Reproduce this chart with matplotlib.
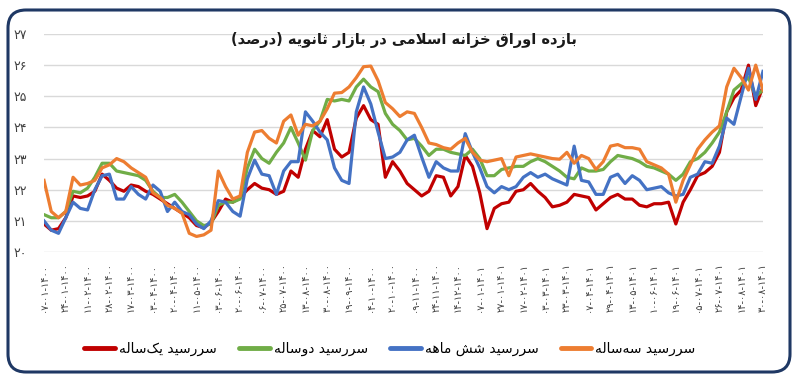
import numpy as np
import matplotlib
matplotlib.use("Agg")
import matplotlib.pyplot as plt
from matplotlib.patches import FancyBboxPatch
from matplotlib import font_manager, ft2font

# -----------------------------------------
# Données
# -----------------------------------------
title = "بازده اوراق خزانه اسلامی در بازار ثانویه (درصد)"

series_names = ["سررسید یک‌ساله", "سررسید دوساله", "سررسید شش ماهه", "سررسید سه‌ساله"]

dates = [
    "۱۴۰۰-۰۱-۰۷", "۱۴۰۰-۰۱-۲۴", "۱۴۰۰-۰۲-۱۱", "۱۴۰۰-۰۲-۲۸", "۱۴۰۰-۰۳-۱۷",
    "۱۴۰۰-۰۴-۰۳", "۱۴۰۰-۰۴-۲۰", "۱۴۰۰-۰۵-۱۱", "۱۴۰۰-۰۶-۰۳", "۱۴۰۰-۰۶-۲۰",
    "۱۴۰۰-۰۷-۰۶", "۱۴۰۰-۰۷-۲۵", "۱۴۰۰-۰۸-۱۳", "۱۴۰۰-۰۸-۳۰", "۱۴۰۰-۰۹-۱۹",
    "۱۴۰۰-۱۰-۰۴", "۱۴۰۰-۱۰-۲۰", "۱۴۰۰-۱۱-۰۹", "۱۴۰۰-۱۱-۲۴", "۱۴۰۰-۱۲-۱۴",
    "۱۴۰۱-۰۱-۰۷", "۱۴۰۱-۰۱-۲۷", "۱۴۰۱-۰۲-۱۷", "۱۴۰۱-۰۳-۰۳", "۱۴۰۱-۰۳-۲۳",
    "۱۴۰۱-۰۴-۰۷", "۱۴۰۱-۰۴-۲۹", "۱۴۰۱-۰۵-۱۳", "۱۴۰۱-۰۶-۱۰", "۱۴۰۱-۰۶-۱۹",
    "۱۴۰۱-۰۷-۰۵", "۱۴۰۱-۰۷-۲۶", "۱۴۰۱-۰۸-۱۴", "۱۴۰۱-۰۸-۳۰",
]

yek_sale = [
    20.9, 20.7, 20.75, 21.1, 21.8, 21.75, 21.8, 21.95, 22.5, 22.3,
    22.05, 21.95, 22.15, 22.1, 21.95, 21.85, 21.7, 21.55, 21.4, 21.25,
    21.1, 20.85, 20.78, 20.95, 21.3, 21.7, 21.6, 21.75, 22.0, 22.2,
    22.05, 22.0, 21.85, 21.95, 22.6, 22.4, 23.3, 23.9, 23.7, 24.25,
    23.3, 23.05, 23.2, 24.3, 24.7, 24.25, 24.1, 22.4, 22.9, 22.6,
    22.2, 22.0, 21.8, 21.95, 22.45, 22.4, 21.8, 22.1, 23.1, 22.75,
    21.9, 20.75, 21.4, 21.55, 21.6, 21.95, 22.0, 22.2, 21.95, 21.75,
    21.45, 21.5, 21.6, 21.85, 21.8, 21.75, 21.35, 21.55, 21.75, 21.85,
    21.7, 21.7, 21.5, 21.45, 21.55, 21.55, 21.6, 20.9, 21.6, 22.0,
    22.45, 22.55, 22.75, 23.2, 24.5, 24.95, 25.2, 26.0, 24.7, 25.3,
]

do_sale = [
    21.2, 21.1, 21.1, 21.3, 21.95, 21.9, 22.05, 22.4, 22.85, 22.85,
    22.6, 22.55, 22.5, 22.45, 22.3, 21.95, 21.75, 21.75, 21.85, 21.6,
    21.3, 21.0, 20.85, 20.9, 21.5, 21.6, 21.6, 21.7, 22.7, 23.3,
    23.0, 22.85, 23.2, 23.5, 24.0, 23.5, 22.95, 23.9, 24.2, 24.9,
    24.85, 24.9, 24.85, 25.3, 25.55, 25.3, 25.15, 24.45, 24.1, 23.9,
    23.6, 23.65, 23.4, 23.1, 23.3, 23.3, 23.2, 23.15, 23.1, 23.3,
    23.0, 22.45, 22.45, 22.65, 22.7, 22.75, 22.75, 22.9, 23.0, 22.9,
    22.75, 22.6, 22.4, 22.35, 22.7, 22.6, 22.6, 22.65, 22.9, 23.1,
    23.05, 23.0, 22.9, 22.75, 22.7, 22.6, 22.5, 22.3, 22.5, 22.9,
    23.0, 23.2, 23.5, 23.85, 24.5, 25.2, 25.4, 25.6, 25.0, 25.2,
]

shesh_mahe = [
    21.0, 20.7, 20.6, 21.1, 21.6, 21.4, 21.35, 22.0, 22.45, 22.5,
    21.7, 21.7, 22.1, 21.85, 21.7, 22.15, 21.95, 21.3, 21.6, 21.3,
    21.2, 20.9, 20.75, 21.0, 21.65, 21.6, 21.3, 21.15, 22.35, 22.95,
    22.5, 22.45, 21.85, 22.6, 22.9, 22.9, 24.5, 24.2, 23.85, 23.6,
    22.7, 22.3, 22.2, 24.5, 25.3, 24.75, 23.85, 23.0, 23.05, 23.2,
    23.6, 23.75, 23.05, 22.4, 22.9, 22.7, 22.6, 22.6, 23.8, 23.2,
    22.7, 22.1, 21.9, 22.1, 22.0, 22.1, 22.4, 22.55, 22.4, 22.5,
    22.35, 22.25, 22.15, 23.4, 22.3, 22.25, 21.85, 21.85, 22.4, 22.5,
    22.2, 22.45, 22.3, 22.0, 22.05, 22.1, 21.9, 21.8, 21.85, 22.4,
    22.5, 22.9, 22.85, 23.4, 24.3, 24.1, 25.0, 25.9, 24.9, 25.8,
]

se_sale = [
    22.3, 21.3, 21.1, 21.3, 22.4, 22.15, 22.2, 22.3, 22.7, 22.8,
    23.0, 22.9, 22.7, 22.55, 22.4, 21.9, 21.75, 21.5, 21.4, 21.25,
    20.6, 20.5, 20.55, 20.7, 22.6, 22.1, 21.7, 21.8, 23.2, 23.85,
    23.9, 23.65, 23.5, 24.2, 24.4, 23.75, 24.1, 24.05, 24.2, 24.6,
    25.1, 25.12, 25.3, 25.6, 25.95, 25.97, 25.5, 24.8, 24.6, 24.35,
    24.5, 24.45, 24.0, 23.5, 23.45, 23.35, 23.3, 23.5, 23.65, 23.2,
    22.95, 22.9, 22.95, 23.0, 22.45, 23.05, 23.1, 23.15, 23.1, 23.05,
    23.0, 22.98, 23.2, 22.85, 23.1, 23.0, 22.65, 22.9, 23.4, 23.45,
    23.35, 23.35, 23.3, 22.9, 22.8, 22.7, 22.5, 21.6, 22.3, 22.8,
    23.3, 23.6, 23.85, 24.05, 25.3, 25.9, 25.6, 25.2, 26.0, 25.2,
]

colors = ["#C00000", "#70AD47", "#4472C4", "#ED7D31"]

# -----------------------------------------
# Mise en forme du texte persan (matplotlib ne fait ni liaison ni RTL)
# -----------------------------------------
ft = ft2font.FT2Font(font_manager.findfont("DejaVu Sans"))

def has_glyph(ch):
    return ft.get_char_index(ord(ch)) != 0

FORMS = {
    "ا": ("\uFE8D", "\uFE8E", None, None),
    "ب": ("\uFE8F", "\uFE90", "\uFE91", "\uFE92"),
    "ث": ("\uFE99", "\uFE9A", "\uFE9B", "\uFE9C"),
    "خ": ("\uFEA5", "\uFEA6", "\uFEA7", "\uFEA8"),
    "د": ("\uFEA9", "\uFEAA", None, None),
    "ر": ("\uFEAD", "\uFEAE", None, None),
    "ز": ("\uFEAF", "\uFEB0", None, None),
    "س": ("\uFEB1", "\uFEB2", "\uFEB3", "\uFEB4"),
    "ش": ("\uFEB5", "\uFEB6", "\uFEB7", "\uFEB8"),
    "ص": ("\uFEB9", "\uFEBA", "\uFEBB", "\uFEBC"),
    "ق": ("\uFED5", "\uFED6", "\uFED7", "\uFED8"),
    "ک": ("\uFB8E", "\uFB8F", "\uFB90", "\uFB91"),
    "ل": ("\uFEDD", "\uFEDE", "\uFEDF", "\uFEE0"),
    "م": ("\uFEE1", "\uFEE2", "\uFEE3", "\uFEE4"),
    "ن": ("\uFEE5", "\uFEE6", "\uFEE7", "\uFEE8"),
    "ه": ("\uFEE9", "\uFEEA", "\uFEEB", "\uFEEC"),
    "و": ("\uFEED", "\uFEEE", None, None),
    "ی": ("\uFBFC", "\uFBFD", "\uFBFE", "\uFBFF"),
}
if not has_glyph("\uFBFC"):
    FORMS["ی"] = ("\uFEEF", "\uFEF0", "\uFEF3", "\uFEF4")
if not has_glyph("\uFB8E"):
    FORMS["ک"] = ("\uFED9", "\uFEDA", "\uFEDB", "\uFEDC")


def joins_left(c):
    return c in FORMS and FORMS[c][2] is not None


def shape(text):
    out = []
    i = 0
    n = len(text)
    while i < n:
        c = text[i]
        if c == "\u200c":
            i += 1
            continue
        if c not in FORMS:
            out.append(c)
            i += 1
            continue
        cp = i > 0 and joins_left(text[i - 1])
        if c == "ل" and i + 1 < n and text[i + 1] == "ا":
            out.append("\uFEFC" if cp else "\uFEFB")
            i += 2
            continue
        cn = joins_left(c) and i + 1 < n and text[i + 1] in FORMS
        iso, fin, ini, med = FORMS[c]
        if cp and cn:
            out.append(med)
        elif cp:
            out.append(fin)
        elif cn:
            out.append(ini)
        else:
            out.append(iso)
        i += 1
    s = "".join(reversed(out))
    return s.translate(str.maketrans("()", ")("))


def fa_digits(s):
    return str(s).translate(str.maketrans("0123456789", "۰۱۲۳۴۵۶۷۸۹"))


# -----------------------------------------
# Figure
# -----------------------------------------
plt.rcParams["font.family"] = ["DejaVu Sans"]
fig = plt.figure(figsize=(8, 3.79), dpi=100)
ax = fig.add_axes([44 / 800, 1 - 252 / 379, 719 / 800, 218 / 379])

x = np.arange(len(yek_sale))
for values, color in zip([yek_sale, do_sale, shesh_mahe, se_sale], colors):
    ax.plot(x, values, color=color, linewidth=2.3, solid_joinstyle="round")

ax.set_xlim(0, len(x) - 1)
ax.set_ylim(20, 27)
ax.set_yticks(range(20, 28))
ax.set_yticklabels([fa_digits(v) for v in range(20, 28)], fontsize=9, color="#404040")
ax.set_xticks(range(0, len(x), 3))
ax.set_xticklabels(["-".join(reversed(d.split("-"))) for d in dates],
                   rotation=90, fontsize=7, color="#404040")
ax.tick_params(length=0)
ax.tick_params(axis="y", pad=12)
ax.tick_params(axis="x", pad=8)
ax.grid(axis="y", color="#D9D9D9", linewidth=1)
ax.set_axisbelow(True)
for sp in ax.spines.values():
    sp.set_visible(False)

fig.text(0.505, 0.895, shape(title), ha="center", va="center",
         fontsize=10.5, fontweight="bold", color="#1a1a1a")

handles = [plt.Line2D([], [], color=c, linewidth=3.5, solid_capstyle="round") for c in colors]
fig.legend(handles, [shape(s) for s in series_names], loc="center",
           bbox_to_anchor=(0.4875, 0.079), ncol=4, frameon=False, fontsize=10,
           handlelength=2.2, handletextpad=0.3, columnspacing=1.6)

# cadre arrondi
frame = FancyBboxPatch((8, 7), 782, 362, boxstyle="round,pad=0,rounding_size=18",
                       transform=None, fill=False, edgecolor="#1F3864", linewidth=2.2)
fig.patches.append(frame)

fig.savefig("out.png", dpi=100)
